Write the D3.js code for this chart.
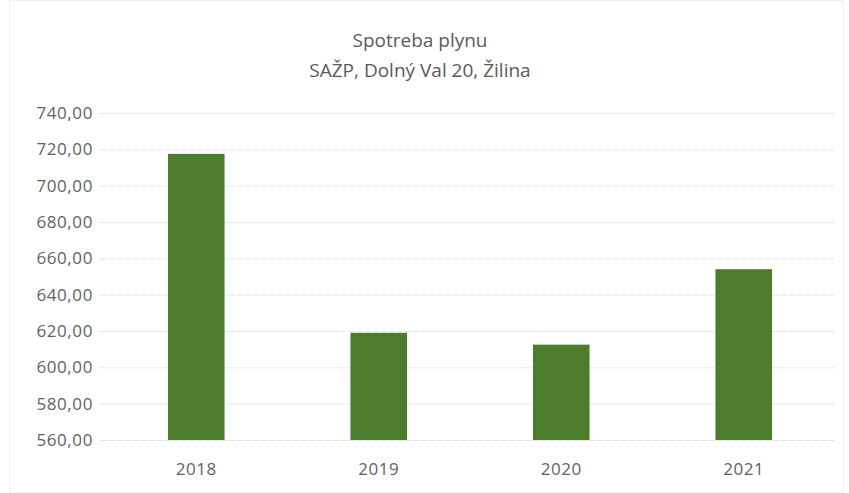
<!DOCTYPE html>
<html><head><meta charset="utf-8">
<script src="https://cdn.jsdelivr.net/npm/d3@7"></script>
<style>body{margin:0;background:#fff;}svg{display:block;}</style>
</head><body>
<svg id="c" width="849" height="493"></svg>
<script>
const categories = ["2018","2019","2020","2021"];
const values = [717.5, 619, 612.5, 654];
const yTicks = [560,580,600,620,640,660,680,700,720,740];
const titleLines = ["Spotreba plynu","SAŽP, Dolný Val 20, Žilina"];

const svg = d3.select("#c");
const W=849,H=493;
const m={left:105,right:14,top:113,bottom:53};
const x=d3.scaleBand().domain(categories).range([m.left,W-m.right]).paddingInner(0.69).paddingOuter(0.345);
const y=d3.scaleLinear().domain([560,740]).range([H-m.bottom,m.top]);

svg.append("rect").attr("x",9.5).attr("y",0.5).attr("width",W-15).attr("height",H-1).attr("fill","#fff").attr("stroke","#f0f0f0");

const font="'Open Sans', 'Liberation Sans', sans-serif";
svg.append("g").selectAll("line").data(yTicks).join("line")
 .attr("x1",m.left-5).attr("x2",W-m.right).attr("y1",d=>y(d)+0.5).attr("y2",d=>y(d)+0.5)
 .attr("stroke","#e3e3e3").attr("stroke-width",1).attr("stroke-dasharray","6,2");

const ya=d3.axisLeft(y).tickValues(yTicks).tickSize(0).tickPadding(12)
 .tickFormat(d=>d3.format(".2f")(d).replace(".",","));
svg.append("g").attr("transform",`translate(${m.left},0)`).call(ya)
 .call(g=>g.select(".domain").remove())
 .call(g=>g.selectAll("text").attr("font-family",font).attr("font-size",17).attr("letter-spacing",0.6).attr("fill","#626262"));

svg.append("g").selectAll("rect").data(categories).join("rect")
 .attr("x",d=>x(d)).attr("width",x.bandwidth())
 .attr("y",(d,i)=>y(values[i])).attr("height",(d,i)=>y(560)-y(values[i]))
 .attr("fill","#4b7d2d");

const xa=d3.axisBottom(x).tickSize(0).tickPadding(23);
svg.append("g").attr("transform",`translate(0,${y(560)})`).call(xa)
 .call(g=>g.select(".domain").remove())
 .call(g=>g.selectAll("text").attr("font-family",font).attr("font-size",17).attr("letter-spacing",0.5).attr("fill","#626262"));

svg.append("g").selectAll("text").data(titleLines).join("text")
 .attr("x",420).attr("y",(d,i)=>47+i*30).attr("text-anchor","middle")
 .attr("font-family",font).attr("font-size",19).attr("fill","#5a5a5a").text(d=>d);
</script>
</body></html>
